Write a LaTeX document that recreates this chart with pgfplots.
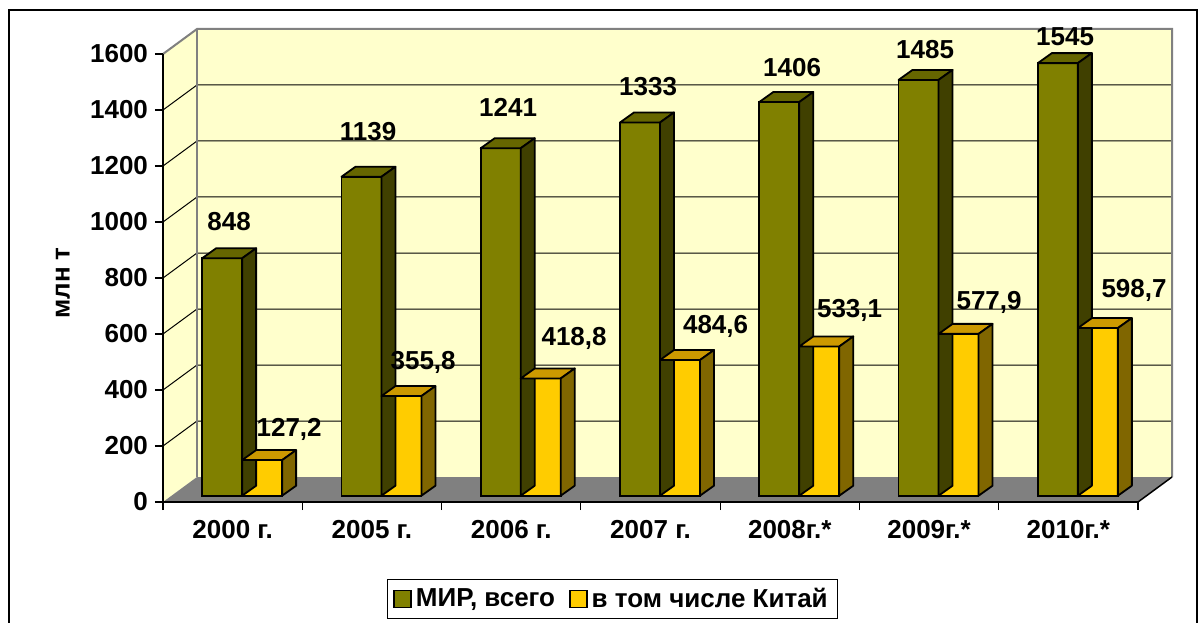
\documentclass[border=0pt]{standalone}
\usepackage{fontspec}
\setmainfont{Liberation Sans}
\usepackage{pgfplots}
\usepackage{pgfplotstable}
\pgfplotsset{compat=1.18}
\definecolor{wall}{HTML}{FFFFCC}
\definecolor{floorgray}{HTML}{808080}
\definecolor{olivefront}{HTML}{808000}
\definecolor{olivetop}{HTML}{666600}
\definecolor{oliveside}{HTML}{404000}
\definecolor{yelfront}{HTML}{FFCC00}
\definecolor{yeltop}{HTML}{CC9900}
\definecolor{yelside}{HTML}{806600}
\newcommand\lbl{\bfseries\fontsize{13}{15.6}\selectfont}
% x: category index; w: world (mln t); c: China (mln t); *lx,*ly: label offsets (pt)
\pgfplotstableread{
x w    wlx  wly   c     clx   cly
0 848  3.5  18.25 127.2 13.5  15.5
1 1139 3.35 22.4  355.8 10.85 16.6
2 1241 3.7  20.5  418.8 16.7  20.2
3 1333 4.05 17.75 484.6 17.8  16.6
4 1406 6.4  17    533.1 15.15 18.1
5 1485 3.25 15.25 577.9 15.25 15.75
6 1545 3.6  13.1  598.7 18.1  18.75
}\data
\begin{document}
\begin{tikzpicture}
\useasboundingbox (-81.5pt,-60pt) rectangle (518pt,251pt);
\fill[white] (-81.5pt,-60pt) rectangle (518pt,251pt);
\draw[black, line width=0.8pt] (-77pt,-70pt) rectangle (517pt,246pt);
\begin{axis}[
  at={(0pt,0pt)}, anchor=south west,
  x=69.643pt, y=0.14pt,
  xmin=-0.5, xmax=6.5, ymin=0, ymax=1600,
  clip=false, axis on top,
  axis x line*=bottom, axis y line*=left,
  axis line style={black, line width=0.75pt},
  tick align=outside, major tick length=4pt,
  tick style={black, line width=0.6pt},
  xtick={-0.5,0.5,...,6.5},
  xticklabels={2000 г.,2005 г.,2006 г.,2007 г.,2008г.*,2009г.*,2010г.*,{}},
  xticklabel style={font=\lbl, anchor=north, xshift=34.82pt, yshift=-1.5pt},
  ytick={0,200,...,1600},
  yticklabel style={font=\lbl},
  /pgf/number format/assume math mode=true,
  /pgf/number format/1000 sep={},
  ylabel={млн т},
  ylabel style={at={(axis description cs:-0.1026,0.4888)}, anchor=center, font=\lbl},
]
% side wall, back wall, floor
\fill[wall] (axis cs:-0.2559,89.29) rectangle (axis cs:6.7441,1689.29);
\fill[wall] (axis cs:-0.5,0) -- (axis cs:-0.2559,89.29) -- (axis cs:-0.2559,1689.29) -- (axis cs:-0.5,1600) -- cycle;
\fill[floorgray] (axis cs:-0.5,0) -- (axis cs:6.5,0) -- (axis cs:6.7441,89.29) -- (axis cs:-0.2559,89.29) -- cycle;
% grid lines on the walls
\draw[black, line width=0.5pt] (axis cs:-0.5,200) -- (axis cs:-0.2559,289.29) -- (axis cs:6.7441,289.29);
\draw[black, line width=0.5pt] (axis cs:-0.5,400) -- (axis cs:-0.2559,489.29) -- (axis cs:6.7441,489.29);
\draw[black, line width=0.5pt] (axis cs:-0.5,600) -- (axis cs:-0.2559,689.29) -- (axis cs:6.7441,689.29);
\draw[black, line width=0.5pt] (axis cs:-0.5,800) -- (axis cs:-0.2559,889.29) -- (axis cs:6.7441,889.29);
\draw[black, line width=0.5pt] (axis cs:-0.5,1000) -- (axis cs:-0.2559,1089.29) -- (axis cs:6.7441,1089.29);
\draw[black, line width=0.5pt] (axis cs:-0.5,1200) -- (axis cs:-0.2559,1289.29) -- (axis cs:6.7441,1289.29);
\draw[black, line width=0.5pt] (axis cs:-0.5,1400) -- (axis cs:-0.2559,1489.29) -- (axis cs:6.7441,1489.29);
% wall borders
\draw[floorgray, line width=1pt] (axis cs:-0.5,1600) -- (axis cs:-0.2559,1689.29) -- (axis cs:6.7441,1689.29) -- (axis cs:6.7441,89.29);
\draw[floorgray, line width=1pt] (axis cs:-0.2559,89.29) -- (axis cs:-0.2559,1689.29);
\draw[black, line width=0.75pt] (axis cs:6.5,0) -- (axis cs:6.7441,89.29);
\end{axis}
\begin{axis}[
  at={(4.75pt,3.15pt)}, anchor=south west,
  x=69.643pt, y=0.14pt,
  xmin=-0.5, xmax=6.5, ymin=0, ymax=1600,
  hide axis, clip=false,
  /pgf/number format/.cd, assume math mode=true, fixed, precision=1, use comma, 1000 sep={}, /pgfplots/.cd,
  legend columns=2,
  legend style={at={(0.4513,-0.2306)}, anchor=center, draw=black, line width=0.5pt,
    font=\lbl, inner xsep=3pt, inner ysep=2pt,
    /tikz/every even column/.append style={column sep=5pt}},
]
% world: front faces
\addplot[ybar, bar width=20pt, bar shift=-10pt, fill=olivefront, draw=black, line width=0.9pt,
  visualization depends on={\thisrow{wlx} \as \lx},
  visualization depends on={\thisrow{wly} \as \ly},
  nodes near coords={\pgfmathprintnumber{\pgfplotspointmeta}},
  every node near coord/.append style={font=\lbl, text=black, anchor=center, xshift=\lx*1pt-10pt, yshift=\ly*1pt},
  legend image code/.code={\draw[fill=olivefront, draw=black, line width=0.8pt] (0pt,-4.25pt) rectangle (8.5pt,4.25pt);}
] table[x=x, y=w] {\data};
\addlegendentry{МИР, всего}
% world: top and side faces
\addplot[forget plot, scatter, only marks, mark=text, text mark={},
  visualization depends on={\thisrow{w} \as \hv},
  scatter/@pre marker code/.code={
    \filldraw[fill=olivetop, draw=black, line width=0.9pt, line join=round]
      (-20pt,0pt) -- (0pt,0pt) -- (7pt,5pt) -- (-13pt,5pt) -- cycle;
    \filldraw[fill=oliveside, draw=black, line width=0.9pt, line join=round]
      (0pt,0pt) -- (7pt,5pt) -- (7pt,{5pt-0.14pt*\hv}) -- (0pt,{-0.14pt*\hv}) -- cycle;
  },
  scatter/@post marker code/.code={}
] table[x=x, y=w] {\data};
% China: front faces
\addplot[ybar, bar width=20pt, bar shift=10pt, fill=yelfront, draw=black, line width=0.9pt,
  visualization depends on={\thisrow{clx} \as \lx},
  visualization depends on={\thisrow{cly} \as \ly},
  nodes near coords={\pgfmathprintnumber{\pgfplotspointmeta}},
  every node near coord/.append style={font=\lbl, text=black, anchor=center, xshift=\lx*1pt+10pt, yshift=\ly*1pt},
  legend image code/.code={\draw[fill=yelfront, draw=black, line width=0.8pt] (0pt,-4.25pt) rectangle (8.5pt,4.25pt);}
] table[x=x, y=c] {\data};
\addlegendentry{в том числе Китай}
% China: top and side faces
\addplot[forget plot, scatter, only marks, mark=text, text mark={},
  visualization depends on={\thisrow{c} \as \hv},
  scatter/@pre marker code/.code={
    \filldraw[fill=yeltop, draw=black, line width=0.9pt, line join=round]
      (0pt,0pt) -- (20pt,0pt) -- (27pt,5pt) -- (7pt,5pt) -- cycle;
    \filldraw[fill=yelside, draw=black, line width=0.9pt, line join=round]
      (20pt,0pt) -- (27pt,5pt) -- (27pt,{5pt-0.14pt*\hv}) -- (20pt,{-0.14pt*\hv}) -- cycle;
  },
  scatter/@post marker code/.code={}
] table[x=x, y=c] {\data};
\end{axis}
\end{tikzpicture}
\end{document}
